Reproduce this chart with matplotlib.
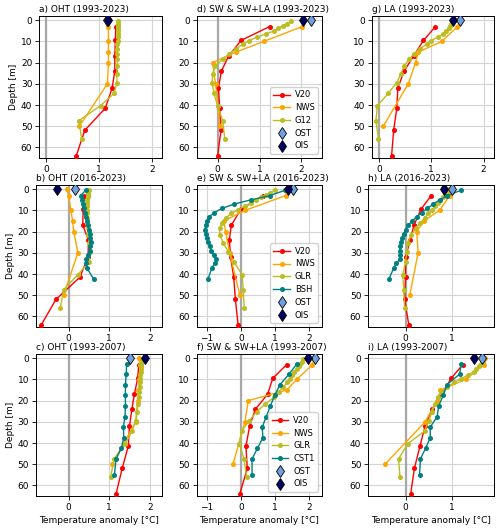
import matplotlib
matplotlib.use('Agg')
import matplotlib.pyplot as plt

# ---------------- depth levels ----------------
V20_DEPTH = [3, 9.5, 17, 24, 32, 41.5, 52, 64]
NWS_DEPTH = [0, 3, 10, 15, 20, 30, 50]
GLO_DEPTH = [0.49, 1.54, 2.65, 3.82, 5.08, 6.44, 7.93, 9.57, 11.4, 13.47,
             15.81, 18.5, 21.6, 25.2, 29.4, 34.4, 40.3, 47.4, 55.8]
BSH_DEPTH = [0.5, 3, 5, 7, 9, 11, 13, 15, 17, 19, 21, 23, 25, 27, 29, 31,
             33, 35, 37, 42.5]
CST1_DEPTH = [2.5, 7.5, 12.5, 17.5, 22.5, 27.5, 32.5, 37.5, 42.5, 47.5, 55]

# ---------------- panel a) OHT 1993-2023 ----------------
a_V20 = [1.32, 1.31, 1.30, 1.30, 1.25, 1.12, 0.73, 0.57]
a_NWS = [1.18, 1.18, 1.18, 1.18, 1.18, 1.16, 0.63]
a_G12 = [1.37, 1.37, 1.37, 1.37, 1.36, 1.36, 1.36, 1.36, 1.35, 1.35,
         1.35, 1.35, 1.34, 1.34, 1.34, 1.29, 1.03, 0.62, 0.67]
a_OST, a_OIS = 1.15, 1.18

# ---------------- panel b) OHT 2016-2023 ----------------
b_V20 = [0.38, 0.36, 0.35, 0.49, 0.48, 0.28, -0.31, -0.67]
b_NWS = [-0.04, 0.00, 0.06, 0.10, 0.13, 0.23, -0.12]
b_GLR = [0.50, 0.49, 0.48, 0.47, 0.46, 0.45, 0.45, 0.45, 0.45, 0.45,
         0.46, 0.47, 0.48, 0.51, 0.53, 0.50, 0.23, -0.12, -0.20]
b_BSH = [0.42, 0.30, 0.33, 0.36, 0.38, 0.40, 0.42, 0.45, 0.48, 0.50,
         0.52, 0.53, 0.55, 0.54, 0.52, 0.48, 0.44, 0.43, 0.45, 0.62]
b_OST, b_OIS = 0.16, -0.28

# ---------------- panel c) OHT 1993-2007 ----------------
c_V20 = [1.73, 1.70, 1.62, 1.56, 1.50, 1.47, 1.32, 1.17]
c_NWS = [1.73, 1.76, 1.74, 1.72, 1.70, 1.65, 1.08]
c_GLR = [1.80, 1.80, 1.79, 1.79, 1.78, 1.78, 1.77, 1.76, 1.76, 1.75,
         1.74, 1.73, 1.71, 1.69, 1.66, 1.56, 1.40, 1.12, 1.04]
c_CST1 = [1.43, 1.42, 1.40, 1.40, 1.40, 1.39, 1.35, 1.36, 1.30, 1.17, 1.13]
c_OST, c_OIS = 1.51, 1.89

# ---------------- panel d) SW & SW+LA 1993-2023 ----------------
d_V20 = [1.24, 0.56, 0.26, 0.09, 0.02, 0.05, 0.08, 0.00]
d_NWS = [2.05, 2.02, 1.10, 0.44, -0.12, -0.05, 0.05]
d_G12 = [1.76, 1.66, 1.55, 1.45, 1.35, 1.15, 0.95, 0.75, 0.60, 0.44,
         0.28, 0.12, -0.06, -0.12, -0.13, -0.09, 0.00, 0.12, 0.17]
d_OST, d_OIS = 2.24, 2.05

# ---------------- panel e) SW & SW+LA 2016-2023 ----------------
e_V20 = [0.66, 0.00, -0.28, -0.34, -0.30, -0.21, -0.16, -0.08]
e_NWS = [1.35, 1.32, 0.12, -0.50, -0.45, -0.33, -0.03]
e_GLR = [1.00, 0.86, 0.74, 0.58, 0.46, 0.30, 0.12, -0.08, -0.28, -0.44,
         -0.56, -0.62, -0.62, -0.52, -0.37, -0.20, 0.04, 0.07, 0.10]
e_BSH = [1.30, 0.85, 0.30, -0.20, -0.55, -0.78, -0.93, -1.00, -1.04, -1.05,
         -1.03, -1.00, -0.96, -0.92, -0.87, -0.80, -0.72, -0.76, -0.85, -0.97]
e_OST, e_OIS = 1.53, 1.40

# ---------------- panel f) SW & SW+LA 1993-2007 ----------------
f_V20 = [1.35, 0.94, 0.79, 0.43, 0.26, 0.15, 0.19, -0.03]
f_NWS = [2.15, 2.11, 1.65, 1.35, 0.22, 0.12, -0.23]
f_GLR = [1.82, 1.79, 1.75, 1.70, 1.64, 1.58, 1.52, 1.45, 1.37, 1.25,
         1.12, 0.97, 0.72, 0.47, 0.25, 0.02, -0.04, 0.09, 0.17]
f_CST1 = [1.66, 1.42, 1.15, 1.00, 0.87, 0.75, 0.63, 0.65, 0.49, 0.33, 0.33]
f_OST, f_OIS = 2.19, 1.99

# ---------------- panel g) LA 1993-2023 ----------------
g_V20 = [1.08, 0.85, 0.66, 0.48, 0.36, 0.34, 0.28, 0.24]
g_NWS = [1.55, 1.50, 1.20, 0.75, 0.70, 0.56, 0.08]
g_G12 = [1.40, 1.38, 1.36, 1.33, 1.29, 1.23, 1.13, 1.00, 0.91, 0.78,
         0.67, 0.57, 0.48, 0.42, 0.34, 0.18, -0.03, -0.06, -0.01]
g_OST, g_OIS = 1.55, 1.42

# ---------------- panel h) LA 2016-2023 ----------------
h_V20 = [0.55, 0.33, 0.18, 0.10, 0.00, 0.00, -0.02, 0.07]
h_NWS = [0.93, 0.95, 0.73, 0.39, 0.24, 0.27, 0.09]
h_GLR = [0.90, 0.88, 0.84, 0.80, 0.75, 0.70, 0.64, 0.57, 0.49, 0.41,
         0.32, 0.22, 0.12, 0.05, 0.03, 0.00, -0.06, -0.04, -0.02]
h_BSH = [1.19, 0.90, 0.73, 0.60, 0.47, 0.35, 0.24, 0.14, 0.06, 0.00,
         -0.04, -0.07, -0.10, -0.12, -0.12, -0.11, -0.12, -0.20, -0.25, -0.36]
h_OST, h_OIS = 1.00, 0.82

# ---------------- panel i) LA 1993-2007 ----------------
i_V20 = [1.23, 0.98, 0.78, 0.57, 0.42, 0.31, 0.19, 0.11]
i_NWS = [1.71, 1.69, 1.29, 0.75, 0.68, 0.42, -0.44]
i_GLR = [1.69, 1.66, 1.62, 1.57, 1.52, 1.46, 1.34, 1.20, 1.05, 0.89,
         0.77, 0.70, 0.63, 0.57, 0.50, 0.41, 0.05, -0.15, -0.12]
i_CST1 = [1.20, 1.16, 0.89, 0.81, 0.71, 0.68, 0.53, 0.53, 0.43, 0.32, 0.30]
i_OST, i_OIS = 1.64, 1.46

TITLES = ["a) OHT (1993-2023)", "b) OHT (2016-2023)", "c) OHT (1993-2007)",
          "d) SW & SW+LA (1993-2023)", "e) SW & SW+LA (2016-2023)",
          "f) SW & SW+LA (1993-2007)",
          "g) LA (1993-2023)", "h) LA (2016-2023)", "i) LA (1993-2007)"]
YTICKS = [0, 10, 20, 30, 40, 50, 60]
XLABEL = "Temperature anomaly [°C]"
YLABEL = "Depth [m]"

C_V20, C_NWS, C_GLO, C_TEAL = 'red', 'orange', '#bcbd22', 'teal'
C_OST, C_OIS = '#6f9fe0', '#000060'

plt.rcParams['font.family'] = 'DejaVu Sans'
plt.rcParams['font.size'] = 6

W, H = 500, 530
fig = plt.figure(figsize=(W / 100, H / 100), dpi=100)


def add_ax(l, r, t, b):
    return fig.add_axes([l / W, 1 - b / H, (r - l) / W, (b - t) / H])


def panel(ax, title, series, ost, ois, xlim, xticks,
          legend=False, xlabel=False, ylabel=False):
    ax.grid(True, color='#d4d4d4', lw=0.8)
    ax.set_axisbelow(True)
    ax.axvline(0, color='#a8a8a8', lw=1.6, zorder=1)
    for name, depth, vals, color in series:
        ax.plot(vals, depth, color=color, marker='o', ms=2.6, lw=1.0,
                label=name, zorder=3)
    ax.plot([ost], [0], ls='none', marker='d', ms=6, mfc=C_OST, mec='k',
            mew=0.6, label='OST', zorder=6)
    ax.plot([ois], [0], ls='none', marker='d', ms=6, mfc=C_OIS, mec='k',
            mew=0.6, label='OIS', zorder=6)
    ax.set_xlim(*xlim)
    ax.set_ylim(65, -2)
    ax.set_xticks(xticks)
    ax.set_yticks(YTICKS)
    ax.tick_params(labelsize=6.5, length=3, width=0.6, pad=2)
    for s in ax.spines.values():
        s.set_linewidth(0.7)
    ax.set_title(title, loc='left', fontsize=6.5, pad=3)
    if xlabel:
        ax.set_xlabel(XLABEL, fontsize=6.5, labelpad=3)
    if ylabel:
        ax.set_ylabel(YLABEL, fontsize=6.5, labelpad=2)
    if legend:
        ax.legend(loc='lower right', fontsize=6, labelspacing=0.45,
                  handlelength=2.0, borderpad=0.4, handletextpad=0.6,
                  framealpha=0.9)


ROWS = [(16, 158), (185, 327), (354, 496)]

# column 1 : OHT
ax = add_ax(39.3, 162.3, *ROWS[0])
panel(ax, TITLES[0], [("V20", V20_DEPTH, a_V20, C_V20), ("NWS", NWS_DEPTH, a_NWS, C_NWS),
                      ("G12", GLO_DEPTH, a_G12, C_GLO)],
      a_OST, a_OIS, (-0.13, 2.2), [0, 1, 2], ylabel=True)
ax = add_ax(36, 162, *ROWS[1])
panel(ax, TITLES[1], [("V20", V20_DEPTH, b_V20, C_V20), ("NWS", NWS_DEPTH, b_NWS, C_NWS),
                      ("GLR", GLO_DEPTH, b_GLR, C_GLO), ("BSH", BSH_DEPTH, b_BSH, C_TEAL)],
      b_OST, b_OIS, (-0.8, 2.3), [0, 1, 2], ylabel=True)
ax = add_ax(36, 162, *ROWS[2])
panel(ax, TITLES[2], [("V20", V20_DEPTH, c_V20, C_V20), ("NWS", NWS_DEPTH, c_NWS, C_NWS),
                      ("GLR", GLO_DEPTH, c_GLR, C_GLO), ("CST1", CST1_DEPTH, c_CST1, C_TEAL)],
      c_OST, c_OIS, (-0.8, 2.3), [0, 1, 2], ylabel=True, xlabel=True)

# column 2 : SW & SW+LA
ax = add_ax(196.7, 322.3, *ROWS[0])
panel(ax, TITLES[3], [("V20", V20_DEPTH, d_V20, C_V20), ("NWS", NWS_DEPTH, d_NWS, C_NWS),
                      ("G12", GLO_DEPTH, d_G12, C_GLO)],
      d_OST, d_OIS, (-0.5, 2.5), [0, 1, 2], legend=True)
ax = add_ax(196.7, 322.3, *ROWS[1])
panel(ax, TITLES[4], [("V20", V20_DEPTH, e_V20, C_V20), ("NWS", NWS_DEPTH, e_NWS, C_NWS),
                      ("GLR", GLO_DEPTH, e_GLR, C_GLO), ("BSH", BSH_DEPTH, e_BSH, C_TEAL)],
      e_OST, e_OIS, (-1.3, 2.4), [-1, 0, 1, 2], legend=True)
ax = add_ax(196.7, 322.3, *ROWS[2])
panel(ax, TITLES[5], [("V20", V20_DEPTH, f_V20, C_V20), ("NWS", NWS_DEPTH, f_NWS, C_NWS),
                      ("GLR", GLO_DEPTH, f_GLR, C_GLO), ("CST1", CST1_DEPTH, f_CST1, C_TEAL)],
      f_OST, f_OIS, (-1.3, 2.4), [-1, 0, 1, 2], legend=True, xlabel=True)

# column 3 : LA
ax = add_ax(371.7, 494, *ROWS[0])
panel(ax, TITLES[6], [("V20", V20_DEPTH, g_V20, C_V20), ("NWS", NWS_DEPTH, g_NWS, C_NWS),
                      ("G12", GLO_DEPTH, g_G12, C_GLO)],
      g_OST, g_OIS, (-0.14, 2.2), [0, 1, 2])
ax = add_ax(368.3, 494, *ROWS[1])
panel(ax, TITLES[7], [("V20", V20_DEPTH, h_V20, C_V20), ("NWS", NWS_DEPTH, h_NWS, C_NWS),
                      ("GLR", GLO_DEPTH, h_GLR, C_GLO), ("BSH", BSH_DEPTH, h_BSH, C_TEAL)],
      h_OST, h_OIS, (-0.8, 1.9), [0, 1])
ax = add_ax(368.3, 494, *ROWS[2])
panel(ax, TITLES[8], [("V20", V20_DEPTH, i_V20, C_V20), ("NWS", NWS_DEPTH, i_NWS, C_NWS),
                      ("GLR", GLO_DEPTH, i_GLR, C_GLO), ("CST1", CST1_DEPTH, i_CST1, C_TEAL)],
      i_OST, i_OIS, (-0.8, 1.9), [0, 1], xlabel=True)

fig.savefig('out.png', dpi=100, facecolor='white')
